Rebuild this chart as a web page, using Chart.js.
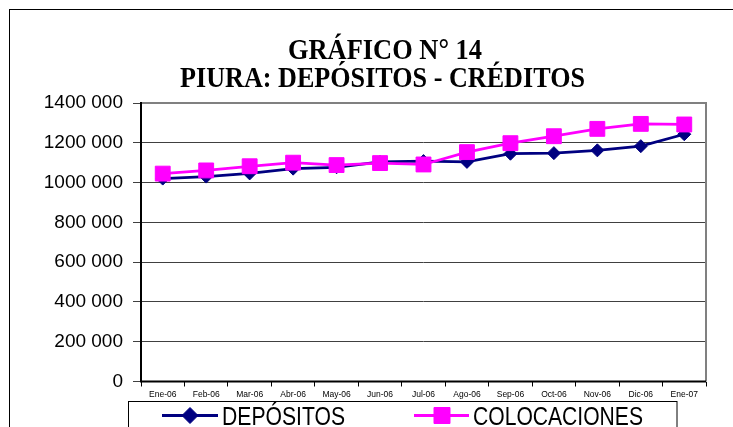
<!DOCTYPE html>
<html>
<head>
<meta charset="utf-8">
<script src="https://cdn.jsdelivr.net/npm/chart.js@4/dist/chart.umd.min.js"></script>
<style>
  html, body { margin: 0; padding: 0; background: #fff; }
  #c { display: block; }
</style>
</head>
<body>
<canvas id="c" width="733" height="427"></canvas>
<script>
// ---- data ----
const titleLines = ['GRÁFICO N° 14', 'PIURA: DEPÓSITOS - CRÉDITOS'];
const categories = ['Ene-06','Feb-06','Mar-06','Abr-06','May-06','Jun-06','Jul-06','Ago-06','Sep-06','Oct-06','Nov-06','Dic-06','Ene-07'];
const depositos = [1020000, 1030000, 1046000, 1070000, 1077000, 1104000, 1108000, 1104000, 1145000, 1148000, 1162000, 1183000, 1243000];
const colocaciones = [1045000, 1061000, 1082000, 1100000, 1088000, 1098000, 1091000, 1153000, 1198000, 1233000, 1270000, 1295000, 1292000];
const seriesNames = ['DEPÓSITOS', 'COLOCACIONES'];
const yMin = 0, yMax = 1400000, yStep = 200000;

const SANS = "'Liberation Sans', Arial, sans-serif";
const SERIF = "'Liberation Serif', 'Times New Roman', serif";

function fmt(v) {
  if (v === 0) return '0';
  const th = Math.floor(v / 1000);
  const rest = String(Math.round(v % 1000)).padStart(3, '0');
  return th + ' ' + rest;
}

function fitText(ctx, text, x, baseline, font, targetW, align) {
  ctx.save();
  ctx.font = font;
  const w = ctx.measureText(text).width;
  const s = targetW / w;
  ctx.textBaseline = 'alphabetic';
  ctx.textAlign = 'left';
  let left = align === 'center' ? x - targetW / 2 : x;
  ctx.translate(left, baseline);
  ctx.scale(s, 1);
  ctx.fillText(text, 0, 0);
  ctx.restore();
}

const decor = {
  id: 'decor',
  beforeDraw(chart) {
    const ctx = chart.ctx;
    ctx.save();
    ctx.fillStyle = '#fff';
    ctx.fillRect(0, 0, chart.width, chart.height);
    ctx.strokeStyle = '#000';
    ctx.lineWidth = 1;
    ctx.strokeRect(9.5, 9.5, 760, 460);
    ctx.restore();
  },
  beforeDatasetsDraw(chart) {
    const ctx = chart.ctx, a = chart.chartArea;
    ctx.save();
    ctx.strokeStyle = '#808080';
    ctx.lineWidth = 2;
    ctx.beginPath();
    ctx.moveTo(a.left, a.top);
    ctx.lineTo(a.right, a.top);
    ctx.lineTo(a.right, a.bottom);
    ctx.stroke();
    ctx.strokeStyle = '#000';
    ctx.beginPath();
    ctx.moveTo(a.left, a.top - 1);
    ctx.lineTo(a.left, a.bottom);
    ctx.lineTo(a.right, a.bottom);
    ctx.stroke();
    ctx.restore();
  },
  afterDraw(chart) {
    const ctx = chart.ctx;
    ctx.save();
    ctx.fillStyle = '#000';
    fitText(ctx, titleLines[0], 385, 58.5, 'bold 29.5px ' + SERIF, 194, 'center');
    fitText(ctx, titleLines[1], 382.5, 87, 'bold 29.5px ' + SERIF, 405, 'center');

    // legend box
    ctx.fillStyle = '#fff';
    ctx.fillRect(128.5, 401.5, 548.5, 60);
    ctx.strokeStyle = '#000';
    ctx.lineWidth = 1;
    ctx.strokeRect(128.5, 401.5, 548.5, 60);

    const entries = [
      { ds: chart.data.datasets[0], x1: 162, x2: 218, px: 190, tx: 222, tw: 123, r: 8 },
      { ds: chart.data.datasets[1], x1: 414, x2: 469, px: 442, tx: 473, tw: 170, r: 11.3 }
    ];
    const ly = 415.5;
    entries.forEach(e => {
      ctx.strokeStyle = e.ds.borderColor;
      ctx.lineWidth = 3;
      ctx.beginPath();
      ctx.moveTo(e.x1, ly);
      ctx.lineTo(e.x2, ly);
      ctx.stroke();
      ctx.fillStyle = e.ds.pointBackgroundColor;
      ctx.strokeStyle = e.ds.pointBorderColor;
      ctx.lineWidth = 1;
      Chart.helpers.drawPoint(ctx, { pointStyle: e.ds.pointStyle, rotation: 0, borderWidth: 1, radius: e.r }, e.px, ly);
      ctx.fillStyle = '#000';
      fitText(ctx, e.ds.label, e.tx, 425, '25px ' + SANS, e.tw, 'left');
    });
    ctx.restore();
  }
};

new Chart(document.getElementById('c'), {
  type: 'line',
  data: {
    labels: categories,
    datasets: [
      {
        label: seriesNames[0],
        data: depositos,
        borderColor: '#000080',
        backgroundColor: '#000080',
        pointBackgroundColor: '#000080',
        pointBorderColor: '#000080',
        borderWidth: 2.75,
        pointStyle: 'rectRot',
        pointRadius: 6.5,
        pointBorderWidth: 1,
        tension: 0,
        order: 1
      },
      {
        label: seriesNames[1],
        data: colocaciones,
        borderColor: '#FF00FF',
        backgroundColor: '#FF00FF',
        pointBackgroundColor: '#FF00FF',
        pointBorderColor: '#FF00FF',
        borderWidth: 2.75,
        pointStyle: 'rect',
        pointRadius: 10.5,
        pointBorderWidth: 1,
        tension: 0,
        order: 0
      }
    ]
  },
  options: {
    responsive: false,
    animation: false,
    devicePixelRatio: 1,
    layout: { padding: { left: 0, right: 27, top: 103, bottom: 0 } },
    plugins: {
      legend: { display: false },
      title: { display: false },
      tooltip: { enabled: false }
    },
    scales: {
      x: {
        type: 'category',
        offset: true,
        afterFit(scale) { scale.height = 45.5; },
        grid: {
          display: true,
          drawOnChartArea: false,
          offset: true,
          drawTicks: true,
          tickLength: 5,
          color: '#000',
          lineWidth: 1
        },
        border: { display: false },
        ticks: {
          autoSkip: false,
          maxRotation: 0,
          minRotation: 0,
          padding: 3,
          color: '#000',
          font: { family: SANS, size: 8.5 }
        }
      },
      y: {
        min: yMin,
        max: yMax,
        afterFit(scale) { scale.width = 141; },
        grid: {
          color: '#404040',
          lineWidth: 1,
          tickLength: 8,
          drawTicks: true
        },
        border: { display: false },
        ticks: {
          stepSize: yStep,
          padding: 10,
          color: '#000',
          font: { family: SANS, size: 19 },
          callback: v => fmt(v)
        }
      }
    }
  },
  plugins: [decor]
});
</script>
</body>
</html>
